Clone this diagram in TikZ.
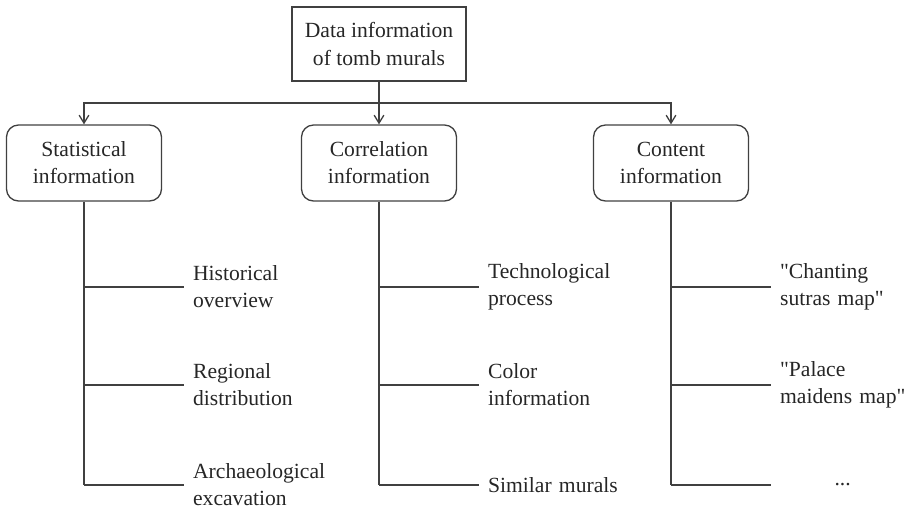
\documentclass[tikz,border=0pt]{standalone}
\usepackage{tikz}
\usepackage{fontspec}
\setmainfont{Liberation Serif}[Ligatures=TeXOff]
\usetikzlibrary{arrows.meta}

\tikzset{
    topbox/.style={draw=black!75, line width=0.75pt, minimum width=3.48cm, minimum height=1.48cm, align=center},
    catbox/.style={draw=black!75, line width=0.75pt, rounded corners=0.24cm, minimum width=3.1cm, minimum height=1.52cm, align=center},
    leaf/.style={anchor=west, inner xsep=5pt, inner ysep=2pt, text width=2.9cm, align=left},
    link/.style={draw=black!75, line width=0.75pt}
}

\begin{document}
\begin{tikzpicture}[x=0.02cm, y=-0.02cm, font=\fontsize{12.3}{15.4}\selectfont, text=black!85,
        >={Straight Barb[length=4.5pt,width=5.5pt]}]
        \useasboundingbox (0,0) rectangle (908,508);

        \node[topbox] (data) at (379,44) {Data information\\of tomb murals};
        \coordinate (hub) at (379,103);

        \node[catbox] (stat) at (84,163) {Statistical\\information};
        \node[catbox] (corr) at (379,163) {Correlation\\information};
        \node[catbox] (cont) at (671,163) {Content\\information};

        \draw[link] (data) -- (hub);
        \foreach \c in {stat,corr,cont}
            \draw[link,->] (hub) -| (\c);

        \foreach \c/\x in {stat/84, corr/379, cont/671}
        {
            \foreach \i/\y in {1/287, 2/385, 3/485}
                \coordinate (\c-\i) at (\x,\y);
            \draw[link] (\c) -- (\c-3);
        }

        \foreach \c/\i/\t in {stat/1/{Historical\\overview}, stat/2/{Regional\\distribution},
            stat/3/{Archaeological\\excavation}, corr/1/{Technological\\process},
            corr/2/{Color\\information}, corr/3/{Similar murals},
            cont/1/{"Chanting\\sutras map"}, cont/2/{"Palace\\maidens map"}}
        {
            \node[leaf] (\c-leaf\i) at ([xshift=2cm]\c-\i) {\t};
            \draw[link] (\c-\i) -- (\c-leaf\i.west);
        }

        \node[leaf, text width=2.5cm, align=center] (cont-leaf3) at ([xshift=2cm]cont-3) {...};
        \draw[link] (cont-3) -- (cont-leaf3.west);
    \end{tikzpicture}
\end{document}
